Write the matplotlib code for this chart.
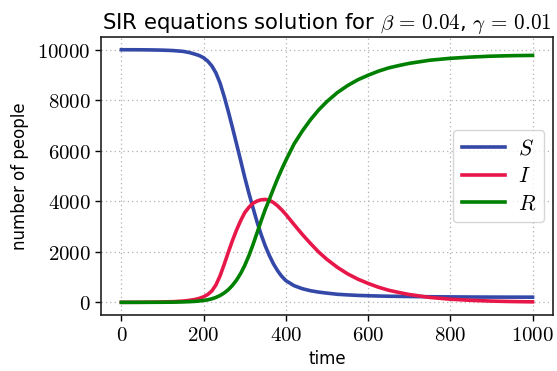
import numpy as np
import matplotlib
matplotlib.use("Agg")
import matplotlib.pyplot as plt

# values (denser where the curves are steep)
time = [0, 25, 50, 75, 100, 125, 150, 165, 180, 190, 200, 210, 220, 230, 240,
        250, 260, 270, 280, 290, 300, 310, 320, 330, 340, 350, 360, 370, 380,
        390, 400, 420, 440, 460, 480, 500, 525, 550, 575, 600, 625, 650, 675,
        700, 750, 800, 850, 900, 950, 1000]
susceptible = [10000, 9999, 9997, 9992, 9984, 9968, 9935, 9890, 9820, 9765,
               9680, 9550, 9360, 9080, 8680, 8150, 7560, 6930, 6280, 5620,
               4950, 4330, 3750, 3180, 2680, 2230, 1850, 1520, 1250, 1030,
               860, 660, 540, 460, 405, 365, 320, 295, 275, 262, 250, 242,
               236, 231, 222, 216, 211, 208, 206, 205]
infected = [1, 2, 4, 8, 14, 26, 50, 78, 118, 160, 220, 310, 450, 690, 1050,
            1500, 1980, 2440, 2860, 3230, 3550, 3760, 3920, 4010, 4060, 4075,
            4040, 3950, 3820, 3660, 3480, 3080, 2690, 2330, 1990, 1700, 1390,
            1130, 920, 750, 600, 480, 390, 310, 195, 125, 80, 50, 32, 20]
recovered = [0, 0, 1, 2, 4, 8, 17, 27, 40, 55, 75, 100, 140, 195, 270, 370,
             500, 670, 880, 1140, 1460, 1840, 2280, 2750, 3230, 3680, 4080,
             4500, 4900, 5270, 5620, 6270, 6780, 7230, 7620, 7950, 8300, 8580,
             8810, 8990, 9150, 9280, 9375, 9460, 9585, 9660, 9710, 9745, 9765,
             9776]

S_COLOR = "#3448a8"
I_COLOR = "#e8174a"
R_COLOR = "#008000"

plt.rcParams["mathtext.fontset"] = "cm"

fig = plt.figure(figsize=(5.57, 3.71), dpi=100)
ax = fig.add_axes([0.181, 0.151, 0.812, 0.749])

ax.plot(time, susceptible, color=S_COLOR, lw=2.6, label=r"$S$")
ax.plot(time, infected, color=I_COLOR, lw=2.6, label=r"$I$")
ax.plot(time, recovered, color=R_COLOR, lw=2.6, label=r"$R$")

xt = [0, 200, 400, 600, 800, 1000]
yt = [0, 2000, 4000, 6000, 8000, 10000]
ax.set_xticks(xt)
ax.set_xticklabels([rf"${v}$" for v in xt])
ax.set_yticks(yt)
ax.set_yticklabels([rf"${v}$" for v in yt])
ax.tick_params(labelsize=15, direction="out", length=4, width=1)

ax.grid(True, linestyle=(0, (1, 2.5)), color="#b0b0b0", lw=0.9)
for sp in ax.spines.values():
    sp.set_linewidth(1.2)
    sp.set_color("#222222")

ax.set_xlabel("time", fontsize=12, labelpad=3)
ax.set_ylabel("number of people", fontsize=12, labelpad=6)
ax.set_title(r"SIR equations solution for $\beta\,=\,0.04$, $\gamma\,=\,0.01$", fontsize=15.2)

ax.legend(loc="center right", fontsize=15.5, handlelength=2.0, labelspacing=0.35,
          borderpad=0.4, handletextpad=0.6, borderaxespad=0.4, framealpha=0.8)

fig.savefig("out.png", dpi=100)
